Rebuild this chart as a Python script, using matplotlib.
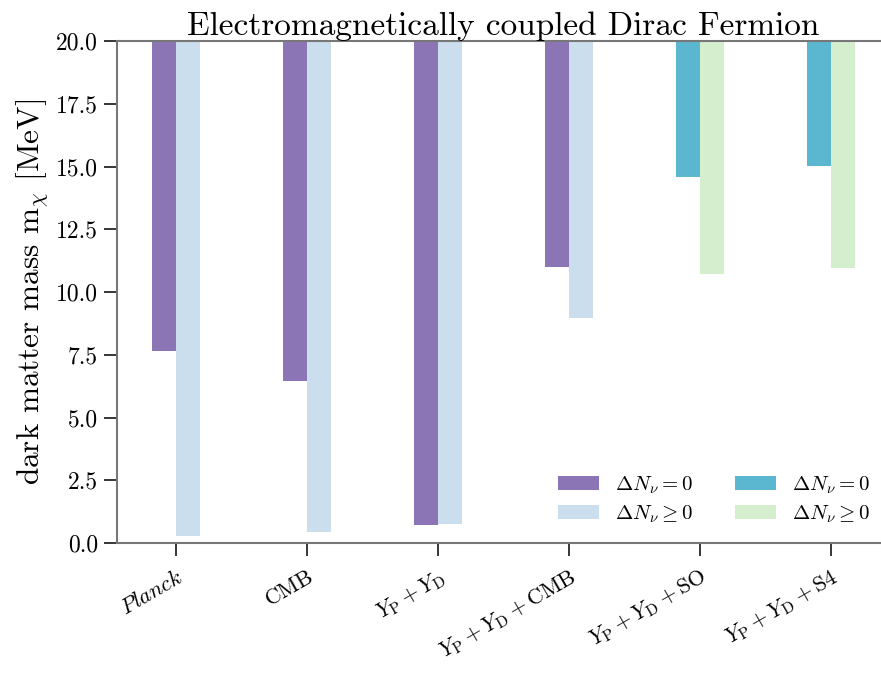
import matplotlib
matplotlib.use("Agg")
import matplotlib.pyplot as plt
import numpy as np

plt.rcParams['font.family'] = 'serif'
plt.rcParams['font.serif'] = ['cmr10']
plt.rcParams['mathtext.fontset'] = 'cm'
plt.rcParams['axes.formatter.use_mathtext'] = True
plt.rcParams['axes.unicode_minus'] = False

# data: lower bound on dark matter mass (bars span from bound up to 20 MeV)
labels = [r"$\mathit{Planck}$", "CMB", r"$Y_\mathrm{P}+Y_\mathrm{D}$",
          r"$Y_\mathrm{P}+Y_\mathrm{D}+\mathrm{CMB}$",
          r"$Y_\mathrm{P}+Y_\mathrm{D}+\mathrm{SO}$",
          r"$Y_\mathrm{P}+Y_\mathrm{D}+\mathrm{S4}$"]
current_dn0 = [7.65, 6.45, 0.73, 11.0]
current_dnfree = [0.29, 0.45, 0.77, 8.98]
future_dn0 = [14.6, 15.03]
future_dnfree = [10.73, 10.97]
ymax = 20.0

purple = '#8c75b5'
lightblue = '#cadeed'
teal = '#5bb7d0'
lightgreen = '#d5eece'

fig = plt.figure(figsize=(8.81, 6.76), dpi=100)
ax = fig.add_axes([0.1328, 0.1967, 0.877, 0.7426])

w = 0.183
xc = np.arange(len(current_dn0))
xf = np.arange(len(current_dn0), len(labels))

ax.bar(xc - w / 2, ymax - np.array(current_dn0), width=w, bottom=current_dn0,
       color=purple, label=r"$\Delta N_\nu = 0$")
ax.bar(xc + w / 2, ymax - np.array(current_dnfree), width=w, bottom=current_dnfree,
       color=lightblue, label=r"$\Delta N_\nu \geq 0$")
ax.bar(xf - w / 2, ymax - np.array(future_dn0), width=w, bottom=future_dn0,
       color=teal, label=r"$\Delta N_\nu = 0$")
ax.bar(xf + w / 2, ymax - np.array(future_dnfree), width=w, bottom=future_dnfree,
       color=lightgreen, label=r"$\Delta N_\nu \geq 0$")

ax.set_xlim(-0.45, 5.45)
ax.set_ylim(0, 20)
ax.set_yticks(np.arange(0, 20.1, 2.5))
ax.set_yticklabels([f"{v:.1f}" for v in np.arange(0, 20.1, 2.5)])
ax.set_xticks(np.arange(len(labels)))
ax.set_xticklabels(labels, rotation=30, ha='right', rotation_mode='anchor')

for s in ax.spines.values():
    s.set_color('#777777')
    s.set_linewidth(1.5)
ax.tick_params(axis='both', length=9.5, width=1.1, labelsize=17, direction='out', pad=4)
ax.tick_params(axis='x', labelsize=16, pad=7)

ax.set_ylabel(r"dark matter mass m$_\chi$ [MeV]", fontsize=22.5)
ax.set_title("Electromagnetically coupled Dirac Fermion", fontsize=24, pad=2)

ax.legend(ncol=2, loc='lower right', frameon=False, fontsize=15,
          handlelength=2.0, handletextpad=0.77,
          columnspacing=2.0, labelspacing=0.35,
          bbox_to_anchor=(0.999, -0.001))

fig.savefig("out.png", dpi=100)
